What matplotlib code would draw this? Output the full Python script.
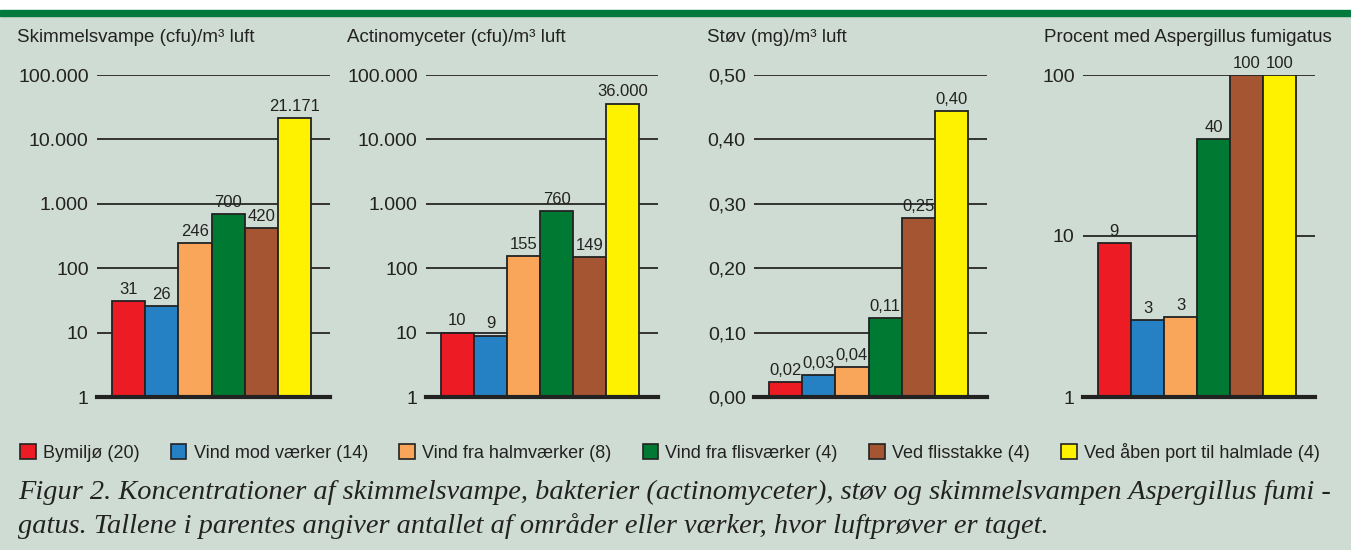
import matplotlib.pyplot as plt
from matplotlib.patches import Patch

# data
kategorier = ["Bymiljø (20)", "Vind mod værker (14)", "Vind fra halmværker (8)",
              "Vind fra flisværker (4)", "Ved flisstakke (4)", "Ved åben port til halmlade (4)"]
farver = ["#ed1c24", "#2581c4", "#f9a65a", "#007a33", "#a65533", "#fff200"]

skimmel = [31, 26, 246, 700, 420, 21171]
skimmel_tekst = ["31", "26", "246", "700", "420", "21.171"]

actino = [10, 9, 155, 760, 149, 36000]
actino_tekst = ["10", "9", "155", "760", "149", "36.000"]

stov = [0.023, 0.034, 0.047, 0.123, 0.278, 0.444]
stov_tekst = ["0,02", "0,03", "0,04", "0,11", "0,25", "0,40"]

asp = [9.0, 3.0, 3.15, 40, 100, 100]
asp_tekst = ["9", "3", "3", "40", "100", "100"]

log_ticks = [1, 10, 100, 1000, 10000, 100000]
log_labels = ["1", "10", "100", "1.000", "10.000", "100.000"]
lin_ticks = [0, 0.1, 0.2, 0.3, 0.4, 0.5]
lin_labels = ["0,00", "0,10", "0,20", "0,30", "0,40", "0,50"]
asp_ticks = [1, 10, 100]
asp_labels = ["1", "10", "100"]

titler = ["Skimmelsvampe (cfu)/m³ luft", "Actinomyceter (cfu)/m³ luft",
          "Støv (mg)/m³ luft", "Procent med Aspergillus fumigatus"]

BG = "#cfdcd3"
W, H = 1351, 550
plt.rcParams['font.family'] = ['Liberation Sans', 'DejaVu Sans']

fig = plt.figure(figsize=(W / 100, H / 100), dpi=100)
fig.patch.set_facecolor("white")

# baggrund og grøn streg i toppen
fig.add_artist(plt.Rectangle((0, 0), 1, 1 - 14 / H, transform=fig.transFigure,
                             color=BG, zorder=0))
fig.add_artist(plt.Rectangle((0, 1 - 16 / H), 1, 6 / H, transform=fig.transFigure,
                             color="#007a3d", zorder=5))


def panel(x0, x1, vals, tekster, ticks, labels, log, titel, tx):
    top, bund = 75, 397
    ax = fig.add_axes([x0 / W, 1 - bund / H, (x1 - x0) / W, (bund - top) / H])
    ax.set_facecolor("none")
    pos = list(range(len(vals)))
    if log:
        ax.set_yscale("log")
    bars = ax.bar(pos, vals, width=1.0, color=farver,
                  edgecolor="#222222", linewidth=1.3, zorder=3)
    ax.set_xlim(-0.95, 6.07)
    ax.set_ylim(ticks[0], ticks[-1])
    ax.set_yticks(ticks)
    ax.set_yticklabels(labels, fontsize=14, color="#222222")
    ax.yaxis.set_minor_locator(plt.NullLocator())
    ax.tick_params(axis="y", length=0, pad=6)
    ax.set_xticks([])
    for s in ["top", "left", "right"]:
        ax.spines[s].set_visible(False)
    ax.spines["bottom"].set_linewidth(3)
    ax.spines["bottom"].set_color("#222222")
    ax.spines["bottom"].set_zorder(4)
    ax.yaxis.grid(True, color="#333333", linewidth=1.4, zorder=1)
    ax.set_axisbelow(True)
    for b, t in zip(bars, tekster):
        ax.annotate(t, (b.get_x() + b.get_width() / 2, b.get_height()),
                    xytext=(0, 3), textcoords="offset points", ha="center", va="bottom",
                    fontsize=12, color="#222222", annotation_clip=False, zorder=5)
    fig.text(tx / W, 1 - 37 / H, titel, fontsize=13.5, color="#222222", va="center")


panel(97, 330, skimmel, skimmel_tekst, log_ticks, log_labels, True, titler[0], 17)
panel(426, 658, actino, actino_tekst, log_ticks, log_labels, True, titler[1], 347)
panel(754, 987, stov, stov_tekst, lin_ticks, lin_labels, False, titler[2], 707)
panel(1083, 1315, asp, asp_tekst, asp_ticks, asp_labels, True, titler[3], 1044)

handles = [Patch(facecolor=c, edgecolor="#222222", linewidth=1.2) for c in farver]
fig.legend(handles, kategorier, loc="center left", bbox_to_anchor=(4 / W, 1 - 452 / H),
           ncol=6, frameon=False, fontsize=13, handlelength=0.85, handleheight=0.95,
           handletextpad=0.4, columnspacing=1.75, labelcolor="#222222")

fig.text(18 / W, 1 - 492 / H,
         "Figur 2. Koncentrationer af skimmelsvampe, bakterier (actinomyceter), støv og skimmelsvampen Aspergillus fumi -",
         fontsize=20.4, family="Liberation Serif", style="italic", color="#222222", va="center")
fig.text(18 / W, 1 - 526 / H,
         "gatus. Tallene i parentes angiver antallet af områder eller værker, hvor luftprøver er taget.",
         fontsize=20.4, family="Liberation Serif", style="italic", color="#222222", va="center")

fig.savefig("out.png", dpi=100, facecolor=fig.get_facecolor())
